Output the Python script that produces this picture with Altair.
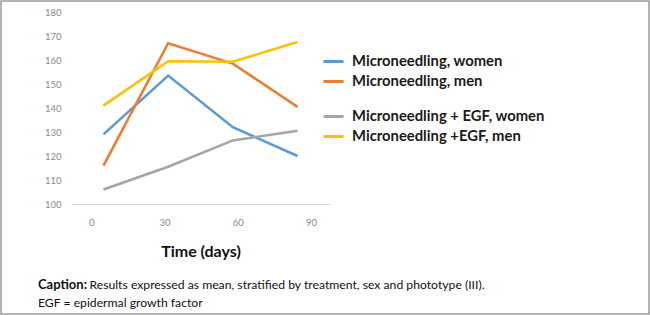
import altair as alt
import pandas as pd

# ---- data ----
days = [5, 31.5, 58, 84.5]          # plotted positions of the four visits
series_a = ["Microneedling, women", "Microneedling, men"]
series_b = ["Microneedling + EGF, women", "Microneedling +EGF, men"]
mn_women = [129, 153.5, 132, 120]
mn_men = [116, 167, 158.5, 140.5]
egf_women = [106, 115.5, 126.5, 130.5]
egf_men = [141, 159.5, 159.3, 167.5]
x_ticks = [0, 30, 60, 90]
y_ticks = [100, 110, 120, 130, 140, 150, 160, 170, 180]
colors_a = ["#5B9BD5", "#ED7D31"]
colors_b = ["#A5A5A5", "#FFC000"]
x_title = "Time (days)"
caption_bold = ["Caption:"]
caption_rest = ["Results expressed as mean, stratified by treatment, sex and phototype (III)."]
caption_line2 = ["EGF = epidermal growth factor"]

df_a = pd.DataFrame({
    "day": days * 2,
    "value": mn_women + mn_men,
    "series": [series_a[0]] * 4 + [series_a[1]] * 4,
})
df_b = pd.DataFrame({
    "day": days * 2,
    "value": egf_women + egf_men,
    "series": [series_b[0]] * 4 + [series_b[1]] * 4,
})

FONT = "Lato"

x_enc = alt.X(
    "day:Q",
    scale=alt.Scale(domain=[-8.3, 97.8], nice=False, zero=False),
    axis=alt.Axis(
        values=x_ticks, title=x_title, ticks=False, grid=False,
        domainColor="#d9d9d9", domainWidth=1.2,
        labelColor="#8a8a8a", labelFontSize=9.5, labelFont=FONT, labelPadding=13,
        titleFont=FONT, titleFontSize=16, titleFontWeight="bold", titleColor="#111111",
        titlePadding=17,
    ),
)
y_enc = alt.Y(
    "value:Q",
    scale=alt.Scale(domain=[100, 180], nice=False, zero=False),
    axis=alt.Axis(
        values=y_ticks, title=None, ticks=False, grid=False, domain=False,
        labelColor="#8a8a8a", labelFontSize=9.5, labelFont=FONT, labelPadding=10,
    ),
)

def legend(y):
    return alt.Legend(
        orient="none", legendX=251, legendY=y, title=None,
        symbolType="stroke", symbolSize=400, symbolStrokeWidth=3,
        labelFont=FONT, labelFontSize=14.8, labelFontWeight="bold",
        labelColor="#1a1a1a", labelOffset=7, rowPadding=1, padding=0,
        labelLimit=300,
    )

lines_a = alt.Chart(df_a).mark_line(strokeWidth=2.6).encode(
    x=x_enc, y=y_enc,
    color=alt.Color("series:N", scale=alt.Scale(domain=series_a, range=colors_a),
                    legend=legend(38), title=None),
)
lines_b = alt.Chart(df_b).mark_line(strokeWidth=2.6).encode(
    x=x_enc, y=y_enc,
    color=alt.Color("series:N", scale=alt.Scale(domain=series_b, range=colors_b),
                    legend=legend(93), title=None),
)

CAP = 12.2
cap1 = alt.Chart(pd.DataFrame({"t": caption_bold})).mark_text(
    align="left", baseline="middle", font=FONT, fontSize=13, fontWeight="bold", color="#111111"
).encode(x=alt.value(-33), y=alt.value(273), text="t:N")
cap2 = alt.Chart(pd.DataFrame({"t": caption_rest})).mark_text(
    align="left", baseline="middle", font=FONT, fontSize=CAP, color="#111111"
).encode(x=alt.value(18.5), y=alt.value(273), text="t:N")
cap3 = alt.Chart(pd.DataFrame({"t": caption_line2})).mark_text(
    align="left", baseline="middle", font=FONT, fontSize=CAP, color="#111111"
).encode(x=alt.value(-33), y=alt.value(291), text="t:N")

border = alt.Chart(pd.DataFrame({"a": [0]})).mark_rect(
    filled=False, stroke="#9a9a9a", strokeWidth=1.5
).encode(x=alt.value(-70), x2=alt.value(578), y=alt.value(-11), y2=alt.value(302))

chart = alt.layer(lines_a, lines_b, cap1, cap2, cap3, border).resolve_scale(
    color="independent"
).properties(
    width=259, height=192,
    autosize=alt.AutoSizeParams(type="none"),
    padding={"left": 71, "top": 12, "right": 320, "bottom": 111},
    background="white",
).configure_view(strokeWidth=0)

chart.save("out.html", embed_options={"renderer": "svg", "actions": False})
